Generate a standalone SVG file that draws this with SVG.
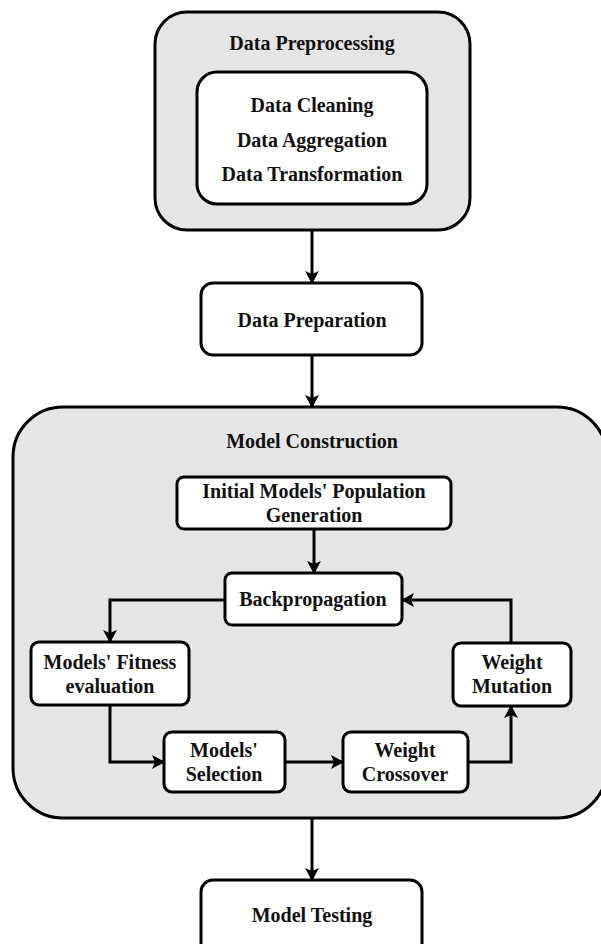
<svg xmlns="http://www.w3.org/2000/svg" width="601" height="944" viewBox="0 0 601 944">
<style>
.bg{fill:#e5e5e5;stroke:#000;stroke-width:3}
.box{fill:#fff;stroke:#000;stroke-width:3}
text{font-family:"Liberation Serif","Times New Roman",serif;font-weight:bold;font-size:20px;fill:#111;text-anchor:middle}
.c{fill:none;stroke:#000;stroke-width:3}
</style>
<defs>
<marker id="ah" markerWidth="14" markerHeight="14" refX="12" refY="7" orient="auto" markerUnits="userSpaceOnUse">
<path d="M0,0 L13,7 L0,14 L3,7 Z" fill="#000"/>
</marker>
</defs>
<g id="data-preprocessing">
<rect class="bg" x="155" y="12" width="315" height="218" rx="32"/>
<text x="312" y="50">Data Preprocessing</text>
</g>
<g id="preprocessing-steps">
<rect class="box" x="197" y="72" width="230" height="132" rx="20"/>
<text x="312" y="112">Data Cleaning</text>
<text x="312" y="147">Data Aggregation</text>
<text x="312" y="181">Data Transformation</text>
</g>
<g id="data-preparation">
<rect class="box" x="201" y="283" width="221" height="72" rx="12"/>
<text x="312" y="327">Data Preparation</text>
</g>
<g id="model-construction">
<rect class="bg" x="13" y="407" width="594" height="411" rx="50"/>
<text x="312" y="448">Model Construction</text>
</g>
<g id="initial-population">
<rect class="box" x="177" y="477" width="274" height="52" rx="7"/>
<text x="314" y="498">Initial Models' Population</text>
<text x="314" y="522">Generation</text>
</g>
<g id="backpropagation">
<rect class="box" x="225" y="573" width="177" height="52" rx="7"/>
<text x="313" y="606">Backpropagation</text>
</g>
<g id="fitness-evaluation">
<rect class="box" x="31" y="642" width="158" height="63" rx="8"/>
<text x="110" y="669">Models' Fitness</text>
<text x="110" y="693">evaluation</text>
</g>
<g id="selection">
<rect class="box" x="164" y="732" width="121" height="60" rx="8"/>
<text x="224" y="757">Models'</text>
<text x="224" y="781">Selection</text>
</g>
<g id="crossover">
<rect class="box" x="343" y="732" width="125" height="60" rx="8"/>
<text x="405" y="757">Weight</text>
<text x="405" y="781">Crossover</text>
</g>
<g id="mutation">
<rect class="box" x="453" y="643" width="118" height="63" rx="8"/>
<text x="512" y="669">Weight</text>
<text x="512" y="693">Mutation</text>
</g>
<g id="model-testing">
<rect class="box" x="201" y="880" width="221" height="80" rx="12"/>
<text x="312" y="922">Model Testing</text>
</g>
<g id="connectors">
<path class="c" d="M312,230 V283" marker-end="url(#ah)"/>
<path class="c" d="M312,355 V407" marker-end="url(#ah)"/>
<path class="c" d="M314,529 V573" marker-end="url(#ah)"/>
<path class="c" d="M225,600 H110 V642" marker-end="url(#ah)"/>
<path class="c" d="M110,705 V762 H164" marker-end="url(#ah)"/>
<path class="c" d="M285,762 H343" marker-end="url(#ah)"/>
<path class="c" d="M468,762 H511 V706" marker-end="url(#ah)"/>
<path class="c" d="M511,643 V600 H402" marker-end="url(#ah)"/>
<path class="c" d="M312,818 V880" marker-end="url(#ah)"/>
</g>
</svg>
